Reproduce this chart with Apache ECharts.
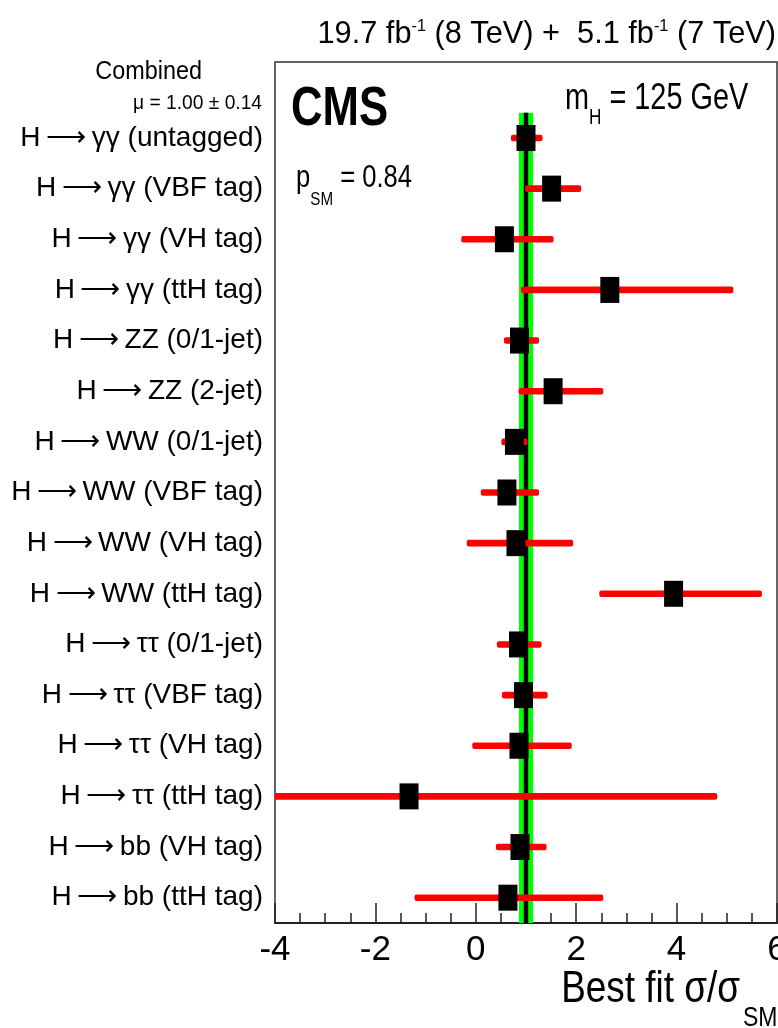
<!DOCTYPE html>
<html>
<head>
<meta charset="utf-8">
<script src="https://cdn.jsdelivr.net/npm/echarts@6/dist/echarts.min.js"></script>
<style>html,body{margin:0;padding:0;background:#fff;}#c{width:778px;height:1028px;}</style>
</head>
<body>
<div id="c"></div>
<script>
// Channels, top to bottom as in the figure
const categories = [
  'H\u2009⟶\u2009γγ (untagged)', 'H\u2009⟶\u2009γγ (VBF tag)', 'H\u2009⟶\u2009γγ (VH tag)', 'H\u2009⟶\u2009γγ (ttH tag)',
  'H\u2009⟶\u2009ZZ (0/1-jet)', 'H\u2009⟶\u2009ZZ (2-jet)',
  'H\u2009⟶\u2009WW (0/1-jet)', 'H\u2009⟶\u2009WW (VBF tag)', 'H\u2009⟶\u2009WW (VH tag)', 'H\u2009⟶\u2009WW (ttH tag)',
  'H\u2009⟶\u2009ττ (0/1-jet)', 'H\u2009⟶\u2009ττ (VBF tag)', 'H\u2009⟶\u2009ττ (VH tag)', 'H\u2009⟶\u2009ττ (ttH tag)',
  'H\u2009⟶\u2009bb (VH tag)', 'H\u2009⟶\u2009bb (ttH tag)'
];
const bestFit = [1.00, 1.51, 0.57, 2.67, 0.87, 1.54, 0.77, 0.62, 0.80, 3.94, 0.85, 0.95, 0.86, -1.33, 0.88, 0.64];
const errLow  = [0.70, 0.98, -0.29, 0.90, 0.56, 0.85, 0.51, 0.10, -0.18, 2.46, 0.42, 0.52, -0.07, -6.8, 0.40, -1.22];
const errHigh = [1.33, 2.10, 1.55, 5.13, 1.26, 2.54, 1.03, 1.26, 1.94, 5.70, 1.31, 1.43, 1.91, 4.81, 1.41, 2.54];
const combinedMu = 1.00;
const combinedErr = 0.14;
const xTicks = [-4, -2, 0, 2, 4, 6];

const FONT = '"Liberation Sans", Arial, sans-serif';

// y category axis: bottom to top, with an empty slot at the top
const yCats = categories.slice().reverse().concat(['']);

const barData = categories.map((c, i) => [errLow[i], errHigh[i], c]);
const pointData = categories.map((c, i) => [bestFit[i], c]);

const chart = echarts.init(document.getElementById('c'), null, {renderer: 'canvas'});
chart.setOption({
  animation: false,
  backgroundColor: '#ffffff',
  grid: {left: 275, right: 1, top: 62, bottom: 105, containLabel: false, outerBoundsMode: 'none',
         show: true, borderColor: '#333', borderWidth: 1.5, backgroundColor: 'transparent'},
  xAxis: {
    type: 'value', min: xTicks[0], max: xTicks[xTicks.length - 1], interval: 2,
    axisLine: {show: true, onZero: false, lineStyle: {color: '#222', width: 2}},
    axisTick: {show: true, inside: true, length: 20, lineStyle: {color: '#222', width: 1.5}},
    minorTick: {show: true, splitNumber: 4, length: 10, lineStyle: {color: '#222', width: 1.5}},
    splitLine: {show: false},
    axisLabel: {fontFamily: FONT, fontSize: 35, color: '#000', margin: 10, showMinLabel: true, showMaxLabel: true, hideOverlap: false}
  },
  yAxis: [
    {
      type: 'category', data: yCats, boundaryGap: true,
      axisLine: {show: false}, axisTick: {show: false}, splitLine: {show: false},
      axisLabel: {fontFamily: FONT, fontSize: 28, color: '#000', margin: 12, interval: 0}
    },
    {
      type: 'value', min: 0, max: yCats.length, show: false, splitLine: {show: false}
    }
  ],
  series: [
    {
      type: 'custom', yAxisIndex: 1, clip: true, z: 1,
      data: [[combinedMu - combinedErr, combinedMu + combinedErr, combinedMu, 0, categories.length]],
      renderItem: function (params, api) {
        const p1 = api.coord([api.value(0), api.value(4)]);
        const p2 = api.coord([api.value(1), api.value(3)]);
        const c1 = api.coord([api.value(2), api.value(4)]);
        return {
          type: 'group',
          children: [
            {type: 'rect', shape: {x: p1[0], y: p1[1], width: p2[0] - p1[0], height: p2[1] - p1[1]}, style: {fill: '#00ff00'}},
            {type: 'rect', shape: {x: c1[0] - 2.2, y: p1[1], width: 4.4, height: p2[1] - p1[1]}, style: {fill: '#000'}}
          ]
        };
      }
    },
    {
      type: 'custom', yAxisIndex: 0, clip: true, z: 2,
      data: barData,
      encode: {x: [0, 1], y: 2},
      renderItem: function (params, api) {
        const a = api.coord([api.value(0), api.value(2)]);
        const b = api.coord([api.value(1), api.value(2)]);
        return {type: 'rect', shape: {x: a[0], y: a[1] - 3.3, width: b[0] - a[0], height: 6.6, r: 2}, style: {fill: '#ff0000'}};
      }
    },
    {
      type: 'scatter', yAxisIndex: 0, z: 3,
      data: pointData,
      symbol: 'rect', symbolSize: [19, 26],
      itemStyle: {color: '#000', opacity: 1}
    }
  ],
  graphic: [
    {type: 'text', x: 776, y: 34, scaleX: 0.96, style: {
      text: '19.7 fb{s|-1} (8 TeV) +  5.1 fb{s|-1} (7 TeV)', align: 'right', verticalAlign: 'middle',
      font: '32px ' + FONT, fill: '#000',
      rich: {s: {fontSize: 17, fontFamily: FONT, verticalAlign: 'top', padding: [0, 0, 14, 0]}}
    }},
    {type: 'text', x: 291, y: 110, scaleX: 0.78, style: {text: 'CMS', align: 'left', verticalAlign: 'middle', font: 'bold 56px ' + FONT, fill: '#000'}},
    {type: 'text', x: 565, y: 80, scaleX: 0.78, style: {
      text: '{n|m}{s|H}{n| = 125 GeV}', align: 'left', verticalAlign: 'top', fill: '#000',
      rich: {
        n: {fontSize: 37, fontFamily: FONT, verticalAlign: 'top'},
        s: {fontSize: 22, fontFamily: FONT, verticalAlign: 'bottom', padding: [27, 0, 0, 0]}
      }
    }},
    {type: 'text', x: 296, y: 162, scaleX: 0.8, style: {
      text: '{n|p}{s|SM}{n| = 0.84}', align: 'left', verticalAlign: 'top', fill: '#000',
      rich: {
        n: {fontSize: 32, fontFamily: FONT, verticalAlign: 'top'},
        s: {fontSize: 19, fontFamily: FONT, verticalAlign: 'bottom', padding: [28, 0, 0, 0]}
      }
    }},
    {type: 'text', x: 202, y: 72, scaleX: 0.9, style: {text: 'Combined', align: 'right', verticalAlign: 'middle', font: '26px ' + FONT, fill: '#000'}},
    {type: 'text', x: 262, y: 103, scaleX: 0.96, style: {text: 'μ = 1.00 ± 0.14', align: 'right', verticalAlign: 'middle', font: '20px ' + FONT, fill: '#000'}},
    {type: 'text', x: 740, y: 990, scaleX: 0.82, style: {text: 'Best fit σ/σ', align: 'right', verticalAlign: 'middle', font: '45px ' + FONT, fill: '#000'}},
    {type: 'text', x: 743, y: 1018, scaleX: 0.82, style: {text: 'SM', align: 'left', verticalAlign: 'middle', font: '28px ' + FONT, fill: '#000'}}
  ]
});
</script>
</body>
</html>
